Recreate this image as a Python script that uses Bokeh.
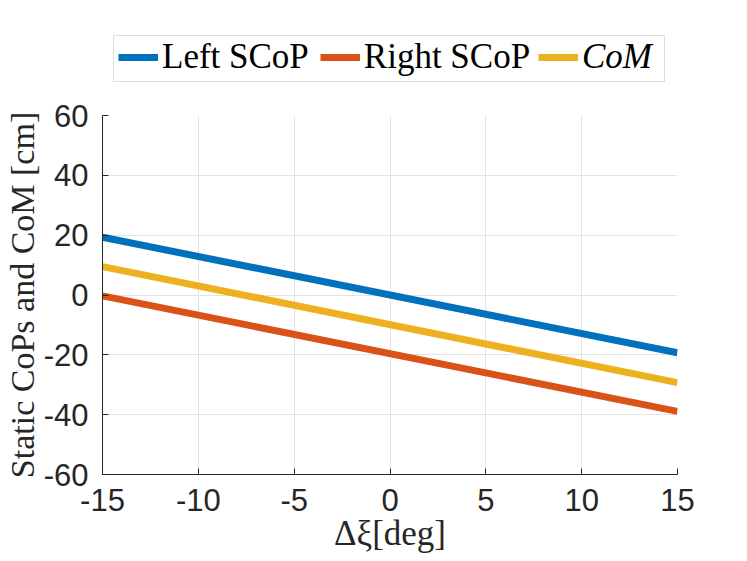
from bokeh.plotting import figure
from bokeh.models import Legend, LegendItem, Range1d, FixedTicker, BoxAnnotation
from bokeh.layouts import column
from bokeh.embed import file_html
from bokeh.resources import INLINE

# ---- data ----
x_vals = [-15, 15]
left_scop = [19.3, -19.3]
right_scop = [-0.3, -38.9]
com = [9.5, -29.3]
x_ticks = [-15, -10, -5, 0, 5, 10, 15]
y_ticks = [-60, -40, -20, 0, 20, 40, 60]
series_names = ["Left SCoP", "Right SCoP", "CoM"]
colors = ["#0072BD", "#D95319", "#EDB120"]
series = [left_scop, right_scop, com]

ink = "#262626"
W = 747
BL, BR = 101, 70   # frame borders shared by both strips
LW = 7

# ---------- main plot ----------
p = figure(width=W, height=471, output_backend="svg", toolbar_location=None,
           x_range=Range1d(-15, 15), y_range=Range1d(-60, 60),
           min_border_left=BL, min_border_right=BR, min_border_top=25,
           min_border_bottom=87)
p.outline_line_color = None
p.background_fill_color = "white"
p.border_fill_color = "white"

for ax in (p.xaxis[0], p.yaxis[0]):
    ax.axis_line_color = ink
    ax.axis_line_width = 1
    ax.major_tick_line_color = ink
    ax.major_tick_in = 6
    ax.major_tick_out = 0
    ax.minor_tick_line_color = None
    ax.major_label_text_font = "Liberation Sans"
    ax.major_label_text_font_size = "31px"
    ax.major_label_text_color = ink
    ax.axis_label_text_font = "Liberation Serif"
    ax.axis_label_text_font_style = "normal"
    ax.axis_label_text_color = ink

p.xaxis.ticker = FixedTicker(ticks=x_ticks)
p.yaxis.ticker = FixedTicker(ticks=y_ticks)
p.xaxis.major_label_overrides = {t: str(t) for t in x_ticks}
p.yaxis.major_label_overrides = {t: str(t) for t in y_ticks}
p.xaxis.major_label_standoff = 14
p.yaxis.major_label_standoff = 14
p.xaxis.axis_label = "Δξ[deg]"
p.xaxis.axis_label_text_font_size = "35px"
p.xaxis.axis_label_standoff = 0
p.yaxis.axis_label = "Static CoPs and CoM [cm]"
p.yaxis.axis_label_text_font_size = "34px"
p.yaxis.axis_label_standoff = 0

p.grid.grid_line_color = "#e3e3e3"
p.grid.grid_line_width = 1
p.xgrid.ticker = FixedTicker(ticks=x_ticks)
p.ygrid.ticker = FixedTicker(ticks=y_ticks)

for ys, c in zip(series, colors):
    p.line(x_vals, ys, line_width=LW, line_color=c)

# ---------- legend strip ----------
# same series drawn here but scrolled out of view (only used as legend sources)
lf = figure(width=W, height=90, output_backend="svg", toolbar_location=None,
            x_range=Range1d(-15, 15), y_range=Range1d(1000, 1001),
            x_axis_location=None, y_axis_location=None,
            min_border_left=BL, min_border_right=BR, min_border_top=30,
            min_border_bottom=4)
lf.grid.visible = False
lf.outline_line_color = None
lf.border_fill_color = "white"
lf.background_fill_color = "white"

legend_renderers = [lf.line(x_vals, ys, line_width=LW, line_color=c)
                    for ys, c in zip(series, colors)]

def style_legend(lg):
    lg.orientation = "horizontal"
    lg.border_line_color = None
    lg.background_fill_alpha = 0
    lg.label_text_font = "Liberation Serif"
    lg.label_text_font_size = "35px"
    lg.label_text_color = "black"
    lg.glyph_width = 40
    lg.glyph_height = 30
    lg.label_standoff = 4
    lg.spacing = 11
    lg.padding = 0
    lg.margin = 0
    lg.label_height = 30

leg1 = Legend(items=[LegendItem(label=series_names[0], renderers=[legend_renderers[0]]),
                     LegendItem(label=series_names[1], renderers=[legend_renderers[1]])],
              location=(16, 9))
style_legend(leg1)
leg2 = Legend(items=[LegendItem(label=series_names[2], renderers=[legend_renderers[2]])],
              location=(436, 9))
style_legend(leg2)
leg2.label_text_font_style = "italic"
lf.add_layout(leg1, "center")
lf.add_layout(leg2, "center")

box = BoxAnnotation(left=11, right=562, bottom=5, top=51,
                    left_units="screen", right_units="screen",
                    top_units="screen", bottom_units="screen",
                    fill_alpha=0, line_color="#8c8c8c", line_width=1)
lf.add_layout(box)

layout = column(lf, p, spacing=0)
open("out.html", "w").write(file_html(layout, INLINE))
